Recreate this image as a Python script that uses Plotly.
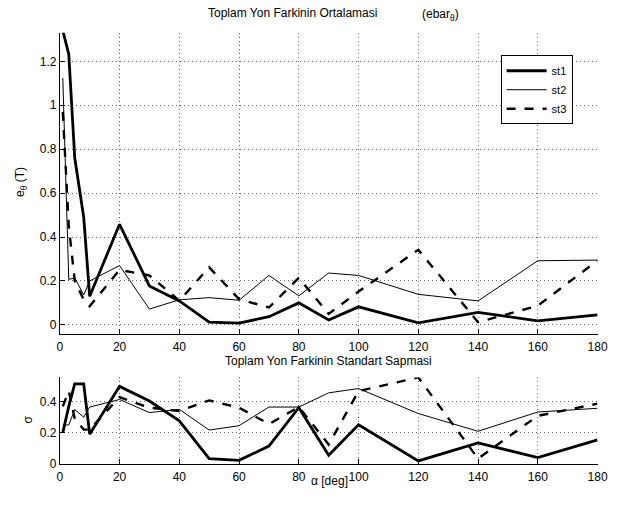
import plotly.graph_objects as go

alpha = [1, 3, 5, 8, 10, 20, 30, 40, 50, 60, 70, 80, 90, 100, 120, 140, 160, 180]

mean_st1 = [1.34, 1.233, 0.76, 0.49, 0.13, 0.458, 0.177, 0.109, 0.012, 0.008, 0.037, 0.10, 0.022, 0.082, 0.009, 0.057, 0.018, 0.045]
mean_st2 = [1.124, 0.207, 0.214, 0.136, 0.20, 0.27, 0.072, 0.114, 0.124, 0.112, 0.225, 0.132, 0.236, 0.225, 0.139, 0.109, 0.292, 0.295]
mean_st3 = [0.97, 0.45, 0.20, 0.115, 0.085, 0.25, 0.225, 0.11, 0.262, 0.117, 0.079, 0.214, 0.05, 0.152, 0.342, 0.012, 0.087, 0.293]

std_st1 = [0.20, 0.37, 0.516, 0.516, 0.19, 0.50, 0.405, 0.277, 0.032, 0.021, 0.113, 0.362, 0.053, 0.251, 0.017, 0.134, 0.038, 0.153]
std_st2 = [0.25, 0.25, 0.35, 0.30, 0.366, 0.415, 0.33, 0.351, 0.217, 0.245, 0.366, 0.366, 0.458, 0.486, 0.324, 0.209, 0.334, 0.358]
std_st3 = [0.37, 0.47, 0.29, 0.22, 0.22, 0.43, 0.362, 0.34, 0.409, 0.362, 0.256, 0.366, 0.123, 0.469, 0.558, 0.032, 0.309, 0.388]

series_names = ["st1", "st2", "st3"]
x_ticks = [0, 20, 40, 60, 80, 100, 120, 140, 160, 180]
top_yticks = [0, 0.2, 0.4, 0.6, 0.8, 1, 1.2]
top_ytick_labels = ["0", "0.2", "0.4", "0.6", "0.8", "1", "1.2"]
bot_yticks = [0, 0.2, 0.4]
bot_ytick_labels = ["0", "0.2", "0.4"]

styles = [dict(width=2.8, dash="solid"), dict(width=1.0, dash="solid"), dict(width=2.4, dash="dash")]

fig = go.Figure()
for name, ys, st in zip(series_names, [mean_st1, mean_st2, mean_st3], styles):
    fig.add_trace(go.Scatter(x=alpha, y=ys, mode="lines", name=name,
                             line=dict(color="black", width=st["width"], dash=st["dash"]),
                             xaxis="x", yaxis="y"))
for name, ys, st in zip(series_names, [std_st1, std_st2, std_st3], styles):
    fig.add_trace(go.Scatter(x=alpha, y=ys, mode="lines", name=name, showlegend=False,
                             line=dict(color="black", width=st["width"], dash=st["dash"]),
                             xaxis="x2", yaxis="y2"))

FAM = "Liberation Sans, Arial, sans-serif"
font = dict(family=FAM, size=12, color="black")
axis_common = dict(showline=True, linecolor="black", linewidth=1, ticks="inside", ticklen=5,
                   tickcolor="black", showgrid=True, gridcolor="#666", griddash="1px,3px",
                   gridwidth=1, zeroline=False, tickfont=font, mirror=False)

fig.update_layout(
    width=634, height=508,
    margin=dict(l=0, r=0, t=0, b=0),
    paper_bgcolor="white", plot_bgcolor="white",
    font=font,
    xaxis=dict(domain=[58/634, 607/634], range=[0, 180], tickvals=x_ticks, anchor="y",
               ticklabelstandoff=2, **axis_common),
    yaxis=dict(domain=[(508-338.3)/508, (508-33.3)/508], range=[-0.04, 1.33],
               tickvals=top_yticks, ticktext=top_ytick_labels, anchor="x", **axis_common),
    xaxis2=dict(domain=[58/634, 607/634], range=[0, 180], tickvals=x_ticks, anchor="y2",
                ticklabelstandoff=2, **axis_common),
    yaxis2=dict(domain=[(508-470)/508, (508-382.7)/508], range=[0, 0.558],
                tickvals=bot_yticks, ticktext=bot_ytick_labels, anchor="x2", **axis_common),
    showlegend=True,
    legend=dict(x=508/634, y=(508-56)/508, xanchor="left", yanchor="top",
                bordercolor="black", borderwidth=1, bgcolor="white",
                font=dict(family=FAM, size=11, color="black"),
                itemwidth=40, tracegroupgap=0),
)

ann_font = dict(family=FAM, size=12, color="black")
fig.add_annotation(text="Toplam Yon Farkinin Ortalamasi", x=296/634, y=1-13/508, xref="paper", yref="paper",
                   showarrow=False, font=ann_font, xanchor="center", yanchor="middle")
fig.add_annotation(text="(ebar<sub>θ</sub>)", x=426/634, y=1-15/508, xref="paper", yref="paper",
                   showarrow=False, font=ann_font, xanchor="left", yanchor="middle")
fig.add_annotation(text="Toplam Yon Farkinin Standart Sapmasi", x=332/634, y=1-366/508, xref="paper", yref="paper",
                   showarrow=False, font=ann_font, xanchor="center", yanchor="middle")
fig.add_annotation(text="α [deg]", x=333/634, y=1-488/508, xref="paper", yref="paper",
                   showarrow=False, font=font, xanchor="center", yanchor="middle")
fig.add_annotation(text="e<sub>θ</sub> (T)", x=19/634, y=1-185/508, xref="paper", yref="paper",
                   showarrow=False, font=font, textangle=-90, xanchor="center", yanchor="middle")
fig.add_annotation(text="σ", x=26/634, y=1-425/508, xref="paper", yref="paper",
                   showarrow=False, font=font, textangle=-90, xanchor="center", yanchor="middle")

fig.write_html("out.html", config={"displayModeBar": False},
               post_script="document.body.style.margin='0';document.body.style.overflow='hidden';")
